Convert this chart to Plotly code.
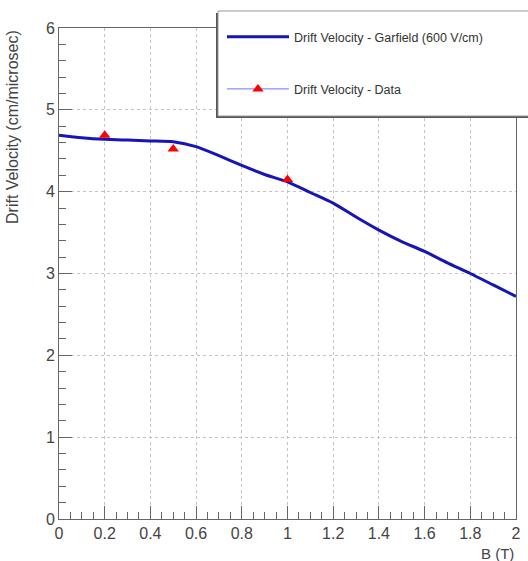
import plotly.graph_objects as go

# Garfield simulation curve (B in Tesla, drift velocity in cm/microsec)
garfield_b = [0.0, 0.1, 0.2, 0.3, 0.4, 0.5, 0.6, 0.7, 0.8, 0.9, 1.0,
              1.1, 1.2, 1.3, 1.4, 1.5, 1.6, 1.7, 1.8, 1.9, 2.0]
garfield_v = [4.69, 4.66, 4.64, 4.63, 4.62, 4.61, 4.55, 4.44, 4.32, 4.21, 4.12,
              3.99, 3.86, 3.69, 3.53, 3.39, 3.27, 3.13, 3.00, 2.86, 2.72]

# Measured data
data_b = [0.2, 0.5, 1.0]
data_v = [4.69, 4.52, 4.15]

# isolate data points so legend shows line+marker but no connecting line in plot
dx, dy = [], []
for b, v in zip(data_b, data_v):
    dx += [b, None]
    dy += [v, None]

W, H = 528, 561
L, R, T, B = 59, 12, 28, 42
pw, ph = W - L - R, H - T - B

def px2x(p):
    return (p - L) / pw

def px2y(p):
    return (H - B - p) / ph

fig = go.Figure()
fig.add_trace(go.Scatter(
    x=garfield_b, y=garfield_v, mode="lines",
    line=dict(color="#1515b8", width=3, shape="spline", smoothing=0.6),
    name="Drift Velocity - Garfield (600 V/cm)", legendgroup="g1"))
fig.add_trace(go.Scatter(
    x=dx, y=dy, mode="lines+markers", connectgaps=False,
    line=dict(color="#7070ff", width=1),
    marker=dict(symbol="triangle-up", size=10, color="#ff0000"),
    name="Drift Velocity - Data", legendgroup="g2"))

axis_common = dict(
    showline=True, linecolor="#666666", linewidth=1, mirror=True,
    ticks="inside", ticklen=13, tickcolor="#666666", tickwidth=1,
    showgrid=True, gridcolor="#c4c4c4", griddash="dot", gridwidth=1,
    zeroline=False,
    tickfont=dict(family="Liberation Sans, Arial", size=16, color="#444444"),
)

fig.update_xaxes(range=[0, 2], tick0=0, dtick=0.2,
                 minor=dict(dtick=0.05, ticks="inside", ticklen=7, tickcolor="#666666", showgrid=False),
                 **axis_common)
fig.update_yaxes(range=[0, 6], tick0=0, dtick=1,
                 minor=dict(dtick=0.2, ticks="inside", ticklen=7, tickcolor="#666666", showgrid=False),
                 **axis_common)

# legend box (with shadow) drawn as shapes
bx0, bx1, by0, by1 = 218, 545, 11, 116
fig.add_shape(type="rect", xref="paper", yref="paper", layer="above",
              x0=px2x(bx0 - 2), x1=px2x(bx1 - 2), y0=px2y(by1 + 2), y1=px2y(by0 + 2),
              fillcolor="#555555", line=dict(width=0))
fig.add_shape(type="rect", xref="paper", yref="paper", layer="above",
              x0=px2x(bx0), x1=px2x(bx1), y0=px2y(by1), y1=px2y(by0),
              fillcolor="white", line=dict(color="#999999", width=1))

fig.add_annotation(text="B (T)", xref="paper", yref="paper", x=1, y=px2y(553),
                   xanchor="right", yanchor="middle", showarrow=False,
                   font=dict(family="Liberation Sans, Arial", size=15, color="#444444"))
fig.add_annotation(text="Drift Velocity (cm/microsec)", xref="paper", yref="paper",
                   x=px2x(12), y=1, xanchor="center", yanchor="top", textangle=-90,
                   showarrow=False,
                   font=dict(family="Liberation Sans, Arial", size=16, color="#444444"))

fig.update_layout(
    width=W, height=H,
    margin=dict(l=L, r=R, t=T, b=B, autoexpand=False),
    paper_bgcolor="white", plot_bgcolor="white",
    showlegend=True,
    legend=dict(x=px2x(222), y=px2y(22), xanchor="left", yanchor="top",
                bgcolor="rgba(0,0,0,0)", borderwidth=0,
                traceorder="grouped", tracegroupgap=33, itemwidth=62,
                font=dict(family="Liberation Sans, Arial", size=12.5, color="#333333")),
)

fig.write_html("out.html", config={"displayModeBar": False})
